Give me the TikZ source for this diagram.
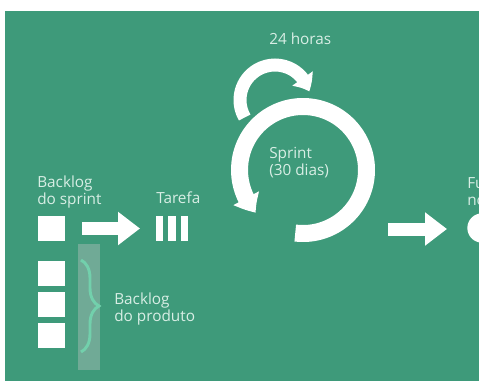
\documentclass[tikz,border=0pt]{standalone}
\usepackage{fontspec}
\setmainfont{Open Sans}
\usetikzlibrary{arrows.meta,bending,decorations.pathreplacing}
\definecolor{fundo}{HTML}{3E9A7A}
\definecolor{faixa}{HTML}{70AA96}
\definecolor{chave}{HTML}{72D0AC}
\definecolor{letra}{HTML}{D8EEE5}
\begin{document}
\begin{tikzpicture}[x=0.75pt,y=-0.75pt,
    lbl/.style={text=letra,anchor=north west,inner sep=0pt,align=left,font=\fontsize{11.5}{12.75}\selectfont},
    caixa/.style={fill=white,inner sep=0pt,minimum width=20.25pt,minimum height=18.75pt},
    barra/.style={fill=white,inner sep=0pt,minimum width=5.5pt,minimum height=18.75pt},
    seta/.style={white,line width=9.75pt,-{Triangle[width=24pt,length=16.5pt]}}]
    \useasboundingbox (0,0) rectangle (479,390);
    \clip (0,0) rectangle (479,390);
    \fill[white] (0,0) rectangle (479,390);
    \fill[fundo] (5,11) rectangle (479,381);
    \fill[faixa] (78,244) rectangle (100,370);
    \node[caixa] (sb) at (51.5,228.5) {};
    \node[caixa] (pb1) at (51.5,273.5) {}; \node[caixa] (pb2) at (51.5,304.5) {}; \node[caixa] (pb3) at (51.5,335.5) {};
    \node[barra] (t1) at (159.5,228.5) {}; \node[barra] (t2) at (172,228.5) {}; \node[barra] (t3) at (184.5,228.5) {};
    \node[lbl] (lsb) at (37,176) {Backlog\\do sprint};
    \node[lbl] (lt) at (156,191) {Tarefa};
    \node[lbl] (lpb) at (114,292.5) {Backlog\\do produto};
    \node[lbl] (l24) at (269,33) {24 horas};
    \node[lbl] (lsp) at (269,147) {Sprint\\(30 dias)};
    \node[lbl] (lfn) at (467,177) {Funcionalidade\\nova};
    \coordinate (a1) at (82,228.5); \coordinate (b1) at (140,228.5);
    \coordinate (a2) at (388,229); \coordinate (b2) at (447,229);
    \coordinate (sprint) at (303,170); \coordinate (diario) at (275,100);
    \coordinate (ch1) at (81,260); \coordinate (ch2) at (81,352);
    \draw[seta] (a1) -- (b1);
    \draw[seta] (a2) -- (b2);
    \draw[white,line width=12.75pt,-{Triangle[width=21pt,length=13pt,bend]}] (sprint) ++(97:63.5) arc[start angle=97,end angle=-222,radius=63.5];
    \draw[white,line width=9.75pt,-{Triangle[width=18pt,length=11pt,bend]}] (diario) ++(150:35) arc[start angle=150,end angle=346,radius=35];
    \node[fill=white,circle,inner sep=0pt,minimum size=22pt] (nova) at (482,228) {};
    \draw[chave,line width=2.2pt,decorate,decoration={brace,amplitude=13.5pt}] (ch1) -- (ch2);
\end{tikzpicture}
\end{document}
